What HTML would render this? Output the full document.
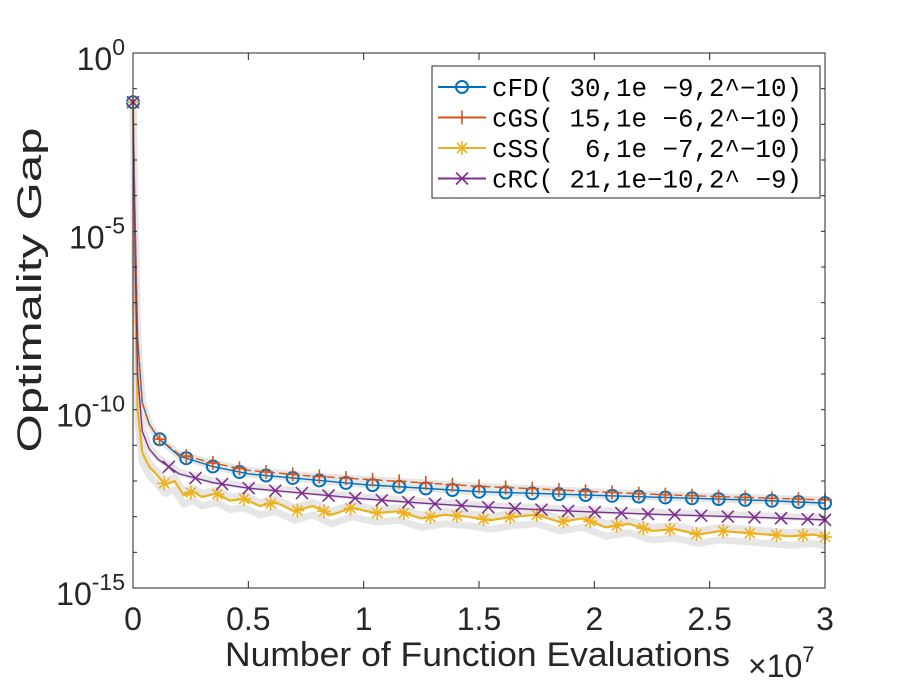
<!DOCTYPE html>
<html><head><meta charset="utf-8"><style>
body{margin:0;background:#fff}
svg{display:block;font-family:"Liberation Sans",Arial,sans-serif}
.pre{white-space:pre}
</style></head><body>
<svg width="913" height="686" viewBox="0 0 913 686">
<rect x="0" y="0" width="913" height="686" fill="#fff"/>
<g id="plot"></g>
<g id="axes"></g>
<g>
<rect x="432" y="66" width="388" height="132" fill="#fff" stroke="#262626" stroke-width="1"/>
<g id="leg"></g>
</g>
<text x="41" y="290" font-size="34" fill="#262626" text-anchor="middle" textLength="325" lengthAdjust="spacingAndGlyphs" transform="rotate(-90 41 290)">Optimality Gap</text>
<text x="225" y="666" font-size="34" fill="#262626" textLength="505" lengthAdjust="spacingAndGlyphs">Number of Function Evaluations</text>
<text x="748" y="677" font-size="32" fill="#262626">×10<tspan dy="-15" font-size="22">7</tspan></text>
</svg>
<script>
const xs   =[0,0.01,0.02,0.04,0.07,0.11,0.2,0.35,0.5,0.75,1.0,1.25,1.5,1.75,2.0,2.25,2.5,2.75,3.0];
const cFD  =[-1.38,-5,-8,-9.8,-10.4,-10.8,-11.3,-11.6,-11.8,-11.95,-12.1,-12.2,-12.3,-12.35,-12.4,-12.45,-12.5,-12.55,-12.62];
const cGS  =[-1.38,-5,-8,-9.8,-10.4,-10.8,-11.25,-11.5,-11.7,-11.85,-11.95,-12.05,-12.15,-12.22,-12.3,-12.37,-12.43,-12.48,-12.53];
const cRC  =[-1.38,-6,-9,-10.6,-11.1,-11.4,-11.8,-12.05,-12.2,-12.35,-12.5,-12.62,-12.72,-12.8,-12.87,-12.93,-12.98,-13.03,-13.09];
const ssX  =[0,0.01,0.02,0.04,0.07,0.1,0.14,0.18,0.22,0.26,0.3,0.36,0.42,0.48,0.55,0.62,0.7,0.78,0.86,0.95,1.05,1.15,1.25,1.35,1.45,1.55,1.65,1.75,1.85,1.95,2.05,2.15,2.25,2.35,2.45,2.55,2.65,2.75,2.85,2.95,3.0];
const cSS  =[-1.38,-7,-10,-11.2,-11.6,-11.8,-12.1,-12.0,-12.4,-12.3,-12.45,-12.35,-12.55,-12.5,-12.7,-12.6,-12.85,-12.7,-12.95,-12.75,-12.9,-12.85,-13.05,-12.95,-13.0,-13.1,-13.0,-12.95,-13.15,-13.05,-13.3,-13.2,-13.4,-13.35,-13.5,-13.4,-13.45,-13.5,-13.55,-13.5,-13.57];
const yTicks=[0,-5,-10,-15];
const xTicks=[0,0.5,1,1.5,2,2.5,3];
const X0=133,X1=825,Y0=53,Y1=588;
const sx=v=>X0+(v/3)*(X1-X0);
const sy=v=>Y0+(-v/15)*(Y1-Y0);
const NS="http://www.w3.org/2000/svg";
function mk(t,a,p){const e=document.createElementNS(NS,t);for(const k in a)e.setAttribute(k,a[k]);p.appendChild(e);return e;}
function interp(X,Y,x){for(let i=1;i<X.length;i++){if(x<=X[i]){const t=(x-X[i-1])/(X[i]-X[i-1]);return Y[i-1]+t*(Y[i]-Y[i-1]);}}return Y[Y.length-1];}
function pts(X,Y,off){return X.map((x,i)=>sx(x)+","+sy(Y[i]+(off||0))).join(" ");}
const plot=document.getElementById("plot");
[[xs,cFD,0],[xs,cGS,0],[xs,cRC,0.05],[ssX,cSS,0.1],[ssX,cSS,-0.25]].forEach(([X,Y,o])=>{
 const g=mk("polyline",{points:pts(X,Y,o),fill:"none",stroke:"#e6e6e6","stroke-width":7,"stroke-linejoin":"round"},plot);
 
 
});
const series=[
 {n:"cFD",X:xs,Y:cFD,c:"#0072bd",m:"o",off:0},
 {n:"cGS",X:xs,Y:cGS,c:"#d95319",m:"+",off:0},
 {n:"cSS",X:ssX,Y:cSS,c:"#edb120",m:"*",off:0.02},
 {n:"cRC",X:xs,Y:cRC,c:"#7e2f8e",m:"x",off:0.04}];
function marker(m,x,y,c,p){
 const g=mk("g",{stroke:c,fill:"none","stroke-width":1.6},p);
 if(m==="o")mk("circle",{cx:x,cy:y,r:6,"stroke-width":2},g);
 if(m==="+"){mk("line",{x1:x-7,y1:y,x2:x+7,y2:y},g);mk("line",{x1:x,y1:y-7,x2:x,y2:y+7},g);}
 if(m==="x"){mk("line",{x1:x-6,y1:y-6,x2:x+6,y2:y+6},g);mk("line",{x1:x-6,y1:y+6,x2:x+6,y2:y-6},g);}
 if(m==="*"){mk("line",{x1:x-7,y1:y,x2:x+7,y2:y},g);mk("line",{x1:x,y1:y-7,x2:x,y2:y+7},g);mk("line",{x1:x-5,y1:y-5,x2:x+5,y2:y+5},g);mk("line",{x1:x-5,y1:y+5,x2:x+5,y2:y-5},g);}
 return g;
}
series.forEach(s=>{
 const l=mk("polyline",{points:pts(s.X,s.Y),fill:"none",stroke:s.c,"stroke-width":s.m==="*"?2.2:1.4,"stroke-dasharray":s.m==="+"?"8 4":"none"},plot);
 
 
 for(let k=0;k<=26;k++){
  const xv=k===0?0:Math.min(3,k*0.1154+s.off);
  const g=marker(s.m,sx(xv),sy(interp(s.X,s.Y,xv)),s.c,plot);
  
  
 }
});
const ax=document.getElementById("axes");
const box=mk("rect",{x:X0,y:Y0,width:X1-X0,height:Y1-Y0,fill:"none",stroke:"#262626","stroke-width":1},ax);


for(let d=0;d>=-15;d--){
 mk("line",{x1:X0,y1:sy(d),x2:X0+4,y2:sy(d),stroke:"#262626"},ax);
 mk("line",{x1:X1,y1:sy(d),x2:X1-4,y2:sy(d),stroke:"#262626"},ax);
}
yTicks.forEach(v=>{
 const t=mk("text",{x:X0-8,y:sy(v)+17,"font-size":32,fill:"#262626","text-anchor":"end"},ax);
 
 
 t.innerHTML="10<tspan dy='-15' font-size='23'>"+v+"</tspan>";
});
xTicks.forEach(v=>{
 mk("line",{x1:sx(v),y1:Y1,x2:sx(v),y2:Y1-7,stroke:"#262626"},ax);
 mk("line",{x1:sx(v),y1:Y0,x2:sx(v),y2:Y0+7,stroke:"#262626"},ax);
 const t=mk("text",{x:sx(v),y:630,"font-size":32,fill:"#262626","text-anchor":"middle"},ax);
 
 
 t.textContent=String(v);
});
const leg=document.getElementById("leg");
const labels=["cFD( 30,1e -9,2^-10)","cGS( 15,1e -6,2^-10)","cSS(  6,1e -7,2^-10)","cRC( 21,1e-10,2^ -9)"];
series.forEach((s,i)=>{
 const y=87+i*30.5;
 const g=mk("g",{},leg);
 
 
 mk("line",{x1:438,y1:y,x2:486,y2:y,stroke:s.c,"stroke-width":2},g);
 marker(s.m,462,y,s.c,g);
 const t=mk("text",{x:492,y:y+9,"font-size":25.5,fill:"#000","font-family":"Liberation Mono, monospace","class":"pre",textLength:310,lengthAdjust:"spacingAndGlyphs"},g);
 t.textContent=labels[i].replace(/-/g,"−");
});
</script>
</body></html>
